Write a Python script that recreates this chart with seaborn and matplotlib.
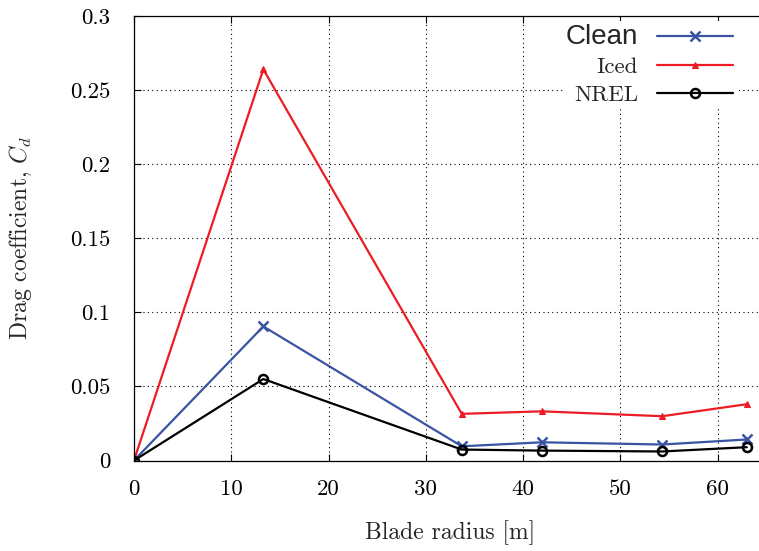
import matplotlib
matplotlib.use("Agg")
import matplotlib.pyplot as plt
import seaborn as sns
import pandas as pd

# Blade span stations [m]
radius = [0.0, 13.3, 33.7, 41.95, 54.3, 63.0]
# Drag coefficient at each station
cd_clean = [0.0, 0.0905, 0.0096, 0.0123, 0.0108, 0.0142]
cd_iced = [0.0, 0.264, 0.0315, 0.0332, 0.0299, 0.0380]
cd_nrel = [0.0, 0.0550, 0.0074, 0.0067, 0.0061, 0.0090]

series_names = ["Clean", "Iced", "NREL"]
series_values = [cd_clean, cd_iced, cd_nrel]
series_colors = ["#3a54a4", "#ec1c24", "#000000"]
series_markers = ["x", "^", "o"]

x_ticks = [0, 10, 20, 30, 40, 50, 60]
y_ticks = [0, 0.05, 0.1, 0.15, 0.2, 0.25, 0.3]
y_tick_labels = ["0", "0.05", "0.1", "0.15", "0.2", "0.25", "0.3"]

sns.set_style("ticks")
plt.rcParams["font.family"] = ["cmr10", "DejaVu Serif"]
plt.rcParams["mathtext.fontset"] = "cm"
plt.rcParams["axes.formatter.use_mathtext"] = True

fig = plt.figure(figsize=(7.59, 5.51), dpi=100)
ax = fig.add_axes([0.1765, 0.1642, 0.833, 0.8068])

rows = []
for name, vals in zip(series_names, series_values):
    for r, v in zip(radius, vals):
        rows.append({"radius": r, "cd": v, "case": name})
df = pd.DataFrame(rows)

for name, color, marker in zip(series_names, series_colors, series_markers):
    sub = df[df["case"] == name]
    kw = dict(marker=marker, markersize=6.5, markeredgewidth=1.8,
              markeredgecolor=color, markerfacecolor=color, color=color)
    if marker == "o":
        kw.update(markerfacecolor="none", markersize=6.5, markeredgewidth=1.8)
    if marker == "^":
        kw.update(markersize=4.5, markeredgewidth=0.8)
    sns.lineplot(data=sub, x="radius", y="cd", ax=ax, linewidth=1.6,
                 label=name, legend=False, **kw)

ax.set_xlim(0, 65)
ax.set_ylim(0, 0.3)
ax.set_xticks(x_ticks)
ax.set_xticklabels([str(t) for t in x_ticks])
ax.set_yticks(y_ticks)
ax.set_yticklabels(y_tick_labels)

ax.grid(True, color="black", linestyle=(0, (1, 3)), linewidth=0.8)
ax.tick_params(direction="in", length=5, width=0.8, top=True, right=True,
               labelsize=16.5, colors="black")
ax.tick_params(axis="y", pad=17)
ax.tick_params(axis="x", pad=14)
for s in ax.spines.values():
    s.set_color("black")
    s.set_linewidth(0.9)

ax.set_xlabel("Blade radius [m]", fontsize=17, labelpad=15)
ax.set_ylabel(r"Drag coefficient, $C_d$", fontsize=17, labelpad=26)

# White, edgeless legend box hides the grid behind the entries
leg = ax.legend(loc="upper right", bbox_to_anchor=(736 / 759, 1 - 21 / 551),
                bbox_transform=fig.transFigure, borderaxespad=0, borderpad=0.13,
                frameon=True, fancybox=False, framealpha=1.0,
                facecolor="white", edgecolor="none",
                markerfirst=False, handlelength=3.3,
                fontsize=16.5, labelspacing=0.32, handletextpad=0.85)
for txt in leg.get_texts():
    if txt.get_text() == "Clean":
        txt.set_fontfamily(["Liberation Sans", "DejaVu Sans"])
        txt.set_fontsize(20)

fig.savefig("out.png", dpi=100, facecolor="white")
